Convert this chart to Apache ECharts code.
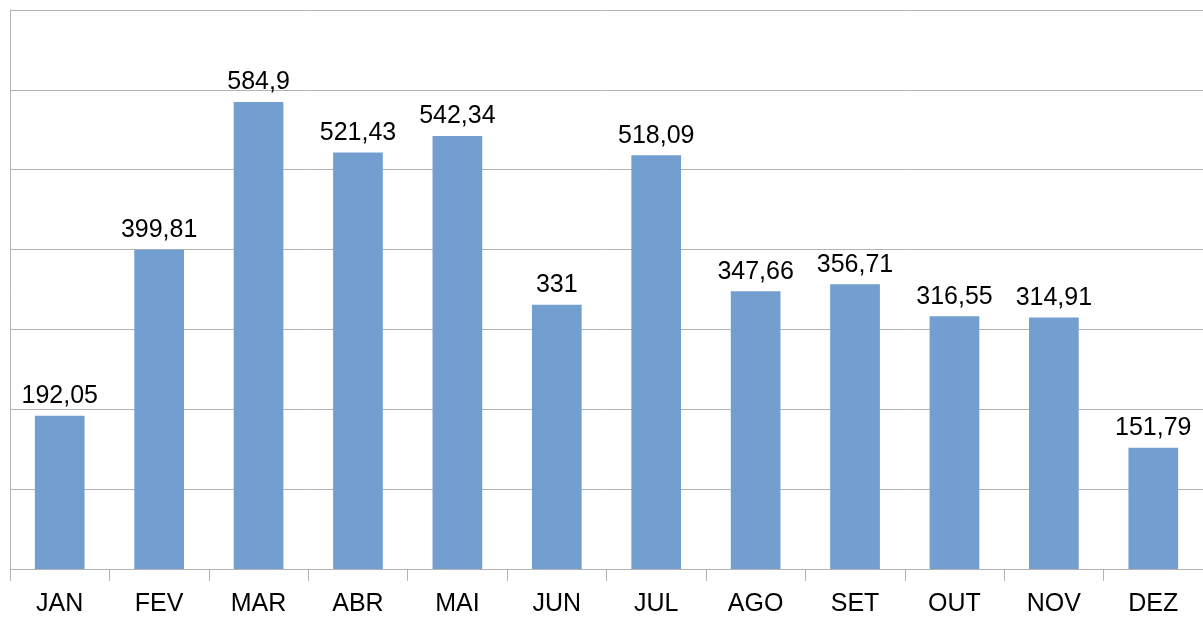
<!DOCTYPE html>
<html>
<head>
<meta charset="utf-8">
<script src="https://cdn.jsdelivr.net/npm/echarts@6/dist/echarts.min.js"></script>
<style>
  html, body { margin: 0; padding: 0; background: #fff; }
  #chart { width: 1203px; height: 617px; }
</style>
</head>
<body>
<div id="chart"></div>
<script>
// dados do gráfico
const meses = ['JAN', 'FEV', 'MAR', 'ABR', 'MAI', 'JUN', 'JUL', 'AGO', 'SET', 'OUT', 'NOV', 'DEZ']
const valores = [192.05, 399.81, 584.9, 521.43, 542.34, 331, 518.09, 347.66, 356.71, 316.55, 314.91, 151.79]

const chart = echarts.init(document.getElementById('chart'))

const option = {
  animation: false,
  grid: { left: 10, right: 0, top: 10, bottom: 47 },
  xAxis: {
    type: 'category',
    data: meses,
    axisLine: { lineStyle: { color: '#b3b3b3', width: 1 } },
    axisTick: { show: true, length: 12, lineStyle: { color: '#b3b3b3' } },
    axisLabel: {
      color: '#000',
      fontFamily: 'Liberation Sans',
      fontSize: 25,
      margin: 23
    }
  },
  yAxis: {
    type: 'value',
    min: 0,
    max: 700,
    interval: 100,
    axisLine: { show: true, lineStyle: { color: '#b3b3b3', width: 1 } },
    axisTick: { show: false },
    axisLabel: { show: false },
    splitLine: { lineStyle: { color: '#b3b3b3', width: 1 } }
  },
  series: [{
    type: 'bar',
    data: valores,
    barWidth: '50%',
    itemStyle: { color: '#729fcf' },
    label: {
      show: true,
      position: 'top',
      distance: 7,
      color: '#000',
      fontFamily: 'Liberation Sans',
      fontSize: 25,
      formatter: (p) => String(p.value).replace('.', ',')
    }
  }]
}

chart.setOption(option)
</script>
</body>
</html>
